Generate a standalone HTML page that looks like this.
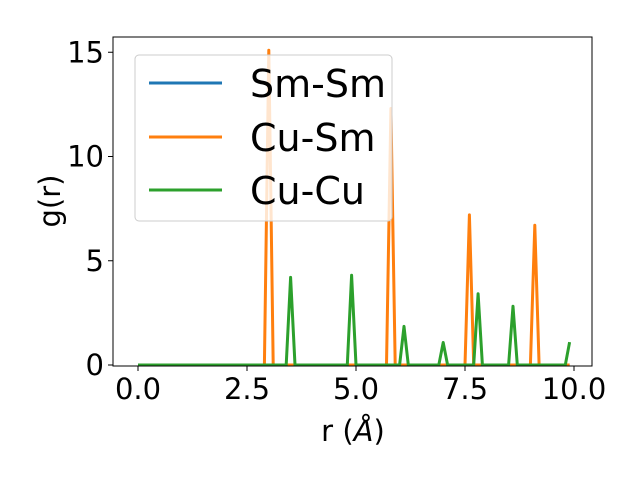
<!DOCTYPE html>
<html><head><meta charset="utf-8"><style>
body{margin:0;background:#fff}
svg text{font-family:"DejaVu Sans","Liberation Sans",sans-serif;fill:#000}
</style></head><body>
<svg width="640" height="480" viewBox="0 0 640 480">
<g id="plot"></g>
<rect x="113" y="37" width="479" height="329" fill="none" stroke="#000" stroke-width="1"/>
<g id="ticks"></g>
<text x="353" y="441" font-size="29" text-anchor="middle">r (<tspan font-style="italic">Å</tspan>)</text>
<text transform="translate(60,201) rotate(-90)" font-size="29" text-anchor="middle">g(r)</text>
<g>
<rect x="135" y="55" width="257" height="166" rx="4" fill="#fff" fill-opacity="0.8" stroke="#ccc"/>
<line x1="149" y1="83" x2="222" y2="83" stroke="#1f77b4" stroke-width="3"/>
<text x="250" y="97" font-size="38">Sm-Sm</text>
<line x1="149" y1="137" x2="222" y2="137" stroke="#ff7f0e" stroke-width="3"/>
<text x="250" y="151" font-size="38">Cu-Sm</text>
<line x1="149" y1="190" x2="222" y2="190" stroke="#2ca02c" stroke-width="3"/>
<text x="250" y="204" font-size="38">Cu-Cu</text>
</g>
</svg>
<script>
const xTicks=[0,2.5,5,7.5,10];
const xTickLabels=["0.0","2.5","5.0","7.5","10.0"];
const yTicks=[0,5,10,15];
const yTickLabels=["0","5","10","15"];
const smSmPeaks=[];
const cuSmR=[3.0,5.8,7.6,9.1];
const cuSmG=[15.1,12.3,7.2,6.7];
const cuCuR=[3.5,4.9,6.1,7.0,7.8,8.6,9.9];
const cuCuG=[4.2,4.3,1.85,1.08,3.42,2.82,1.1];
const X=v=>138+v*43.6;
const Y=v=>365-v*20.85;
const NS="http://www.w3.org/2000/svg";
const plot=document.getElementById('plot');
const ticks=document.getElementById('ticks');
function series(rs,gs){const pts=[];for(let i=0;i<100;i++){const r=i/10;let g=0;rs.forEach((p,k)=>{if(Math.abs(p-r)<1e-6)g=gs[k];});pts.push(X(r).toFixed(1)+','+Y(g).toFixed(1));}return pts.join(' ');}
function line(pts,color,name){const p=document.createElementNS(NS,'polyline');p.setAttribute('points',pts);p.setAttribute('fill','none');p.setAttribute('stroke',color);p.setAttribute('stroke-width','3');p.setAttribute('stroke-linejoin','round');


plot.appendChild(p);}
line(series([],[]),'#1f77b4','series-sm-sm');
line(series(cuSmR,cuSmG),'#ff7f0e','series-cu-sm');
line(series(cuCuR,cuCuG),'#2ca02c','series-cu-cu');
xTicks.forEach((v,i)=>{const l=document.createElementNS(NS,'line');l.setAttribute('x1',X(v));l.setAttribute('x2',X(v));l.setAttribute('y1',366);l.setAttribute('y2',371);l.setAttribute('stroke','#000');


ticks.appendChild(l);const t=document.createElementNS(NS,'text');t.setAttribute('x',X(v));t.setAttribute('y',399);t.setAttribute('font-size','29');t.setAttribute('text-anchor','middle');t.textContent=xTickLabels[i];


ticks.appendChild(t);});
yTicks.forEach((v,i)=>{const l=document.createElementNS(NS,'line');l.setAttribute('x1',108);l.setAttribute('x2',113);l.setAttribute('y1',Y(v));l.setAttribute('y2',Y(v));l.setAttribute('stroke','#000');


ticks.appendChild(l);const t=document.createElementNS(NS,'text');t.setAttribute('x',104);t.setAttribute('y',Y(v)+10);t.setAttribute('font-size','29');t.setAttribute('text-anchor','end');t.textContent=yTickLabels[i];


ticks.appendChild(t);});
</script>
</body></html>
